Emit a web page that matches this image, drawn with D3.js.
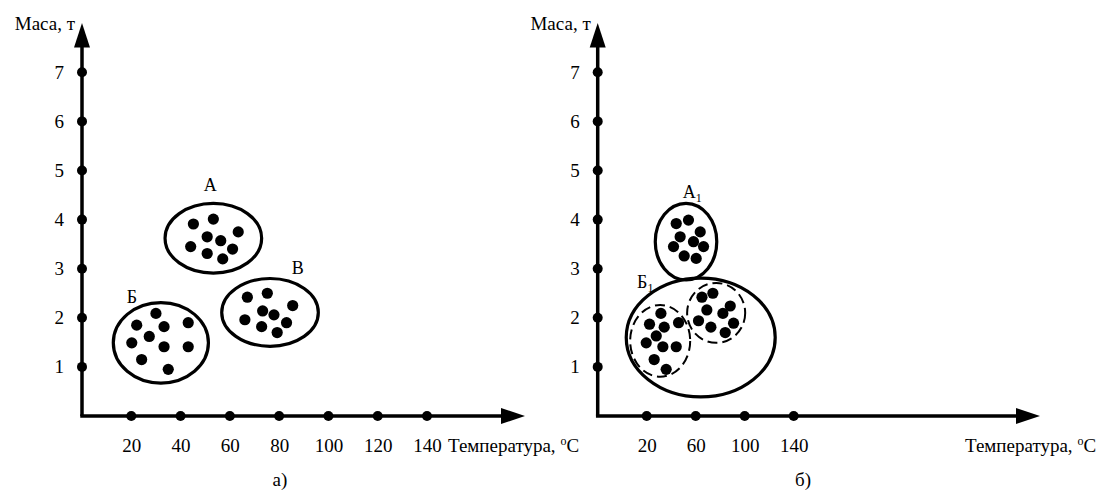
<!DOCTYPE html>
<html><head><meta charset="utf-8">
<script src="https://cdn.jsdelivr.net/npm/d3@7"></script>
<style>body{margin:0;background:#fff}svg{display:block}
svg text{font-family:'Liberation Serif','Times New Roman',Times,'DejaVu Serif',serif !important;fill:#000}</style>
</head><body>
<svg id="c" width="1110" height="491"></svg>
<script>
// ---- data ----
const massTicks = [1, 2, 3, 4, 5, 6, 7];
const leftTempTicks = [20, 40, 60, 80, 100, 120, 140];
const rightTempTicks = [20, 60, 100, 140];
const yLabel = "Маса, т";
const xLabel = "Температура, ";
const captions = ["а)", "б)"];

// panel a) clusters: [temperature, mass]
const clusterA = [[45.2,3.91],[53.3,4.01],[63.4,3.75],[50.8,3.65],[56.3,3.57],[44.1,3.45],[50.8,3.31],[61.1,3.40],[57.1,3.20]];
const clusterB = [[30.0,2.09],[22.2,1.85],[33.3,1.82],[43.1,1.90],[27.3,1.62],[20.2,1.49],[33.3,1.41],[43.1,1.41],[24.2,1.15],[35.0,0.95]];
const clusterV = [[67.1,2.42],[75.2,2.50],[85.5,2.25],[73.3,2.14],[77.9,2.06],[66.1,1.96],[72.9,1.82],[83.0,1.90],[79.2,1.70]];
// panel б) clusters
const clusterA1 = [[44.1,3.92],[54.1,3.99],[63.7,3.75],[47.3,3.65],[58.2,3.55],[41.9,3.45],[66.4,3.45],[50.6,3.26],[60.4,3.21]];
const clusterB1a = [[31.6,2.09],[22.3,1.87],[34.3,1.81],[46.0,1.90],[27.8,1.63],[19.6,1.49],[33.2,1.41],[44.1,1.41],[26.1,1.15],[35.9,0.95]];
const clusterB1b = [[65.1,2.42],[74.0,2.50],[88.2,2.24],[69.1,2.16],[82.2,2.09],[62.3,1.94],[72.4,1.81],[90.9,1.89],[84.1,1.70]];

// cluster envelopes: centre (t, m), half-extent (t, m)
const leftGroups = [
  {name:"А", sub:"", c:[53.3,3.62], r:[19.6,0.71], lab:[52,4.58], dash:false},
  {name:"Б", sub:"", c:[32.0,1.49], r:[19.3,0.82], lab:[20.3,2.3], dash:false},
  {name:"В", sub:"", c:[76.3,2.11], r:[19.6,0.69], lab:[87.6,2.9], dash:false}
];
const rightGroups = [
  {name:"А", sub:"1", c:[52.1,3.55], r:[25.1,0.78], lab:[57.1,4.45], dash:false},
  {name:"Б", sub:"1", c:[64.1,1.60], r:[60.8,1.21], lab:[18.8,2.6], dash:false},
  {name:"", sub:"", c:[31.0,1.53], r:[24.5,0.73], lab:null, dash:true},
  {name:"", sub:"", c:[76.7,2.10], r:[23.7,0.61], lab:null, dash:true}
];

// ---- drawing ----
const svg = d3.select("#c");
const FS = 19;
const FF = "'Liberation Serif','Times New Roman',Times,serif";

const y = d3.scaleLinear().domain([0, 7]).range([416, 72.3]);
const xLeft = d3.scaleLinear().domain([0, 140]).range([82, 427]);
const xRight = d3.scaleLinear().domain([-20, 140]).range([597.7, 793.7]);

function panel(x, xTicks, xTickLabels, groups, clusters, xAxisEnd, xLabelX, captionX, caption) {
  const g = svg.append("g").attr("font-family", FF);
  const x0 = x.range()[0];
  const y0 = y(0);
  // axes lines
  g.append("line").attr("x1", x0).attr("y1", y0).attr("x2", x0).attr("y2", 42)
    .attr("stroke", "#000").attr("stroke-width", 3.5);
  g.append("line").attr("x1", x0 - 1.75).attr("y1", y0).attr("x2", xAxisEnd - 18).attr("y2", y0)
    .attr("stroke", "#000").attr("stroke-width", 3.5);
  g.append("path").attr("d", `M${x0},23 L${x0 - 8},47.5 L${x0 + 8},47.5 Z`).attr("fill", "#000");
  g.append("path").attr("d", `M${xAxisEnd},${y0} L${xAxisEnd - 24},${y0 - 8} L${xAxisEnd - 24},${y0 + 8} Z`).attr("fill", "#000");

  // y axis ticks via d3 axis
  const ya = g.append("g").attr("transform", `translate(${x0},0)`)
    .call(d3.axisLeft(y).tickValues(massTicks).tickSize(0).tickPadding(18).tickFormat(d3.format("d")));
  ya.attr("font-family", FF).attr("font-size", FS);
  ya.select(".domain").remove();
  ya.selectAll("text").attr("font-family", FF).attr("font-size", FS).attr("fill", "#000");
  g.selectAll(".ydot").data(massTicks).enter().append("circle")
    .attr("cx", x0).attr("cy", d => y(d)).attr("r", 5);

  // x axis ticks
  const xa = g.append("g").attr("transform", `translate(0,${y0})`)
    .call(d3.axisBottom(x).tickValues(xTicks).tickSize(0).tickPadding(23)
      .tickFormat((d, i) => xTickLabels[i]));
  xa.attr("font-family", FF).attr("font-size", FS);
  xa.select(".domain").remove();
  xa.selectAll("text").attr("font-family", FF).attr("font-size", FS).attr("fill", "#000");
  g.selectAll(".xdot").data(xTicks).enter().append("circle")
    .attr("cx", d => x(d)).attr("cy", y0).attr("r", 5);

  // axis titles
  g.append("text").attr("x", x0 - 7).attr("y", 29.5).attr("text-anchor", "end")
    .attr("font-size", FS).text(yLabel);
  const xt = g.append("text").attr("x", xLabelX).attr("y", 452).attr("font-size", FS);
  xt.append("tspan").text(xLabel);
  xt.append("tspan").attr("dy", -7).attr("font-size", 12).text("o");
  xt.append("tspan").attr("dy", 7).text("C");
  g.append("text").attr("x", captionX).attr("y", 486).attr("text-anchor", "middle")
    .attr("font-size", FS).text(caption);

  // envelopes
  groups.forEach(gr => {
    g.append("ellipse")
      .attr("cx", x(gr.c[0])).attr("cy", y(gr.c[1]))
      .attr("rx", x(gr.c[0] + gr.r[0]) - x(gr.c[0]))
      .attr("ry", y(gr.c[1]) - y(gr.c[1] + gr.r[1]))
      .attr("fill", "none").attr("stroke", "#000")
      .attr("stroke-width", gr.dash ? 2 : 3.2)
      .attr("stroke-dasharray", gr.dash ? "10,5" : null);
    if (gr.lab) {
      const t = g.append("text").attr("x", x(gr.lab[0])).attr("y", y(gr.lab[1]))
        .attr("text-anchor", "middle").attr("font-size", 18);
      t.append("tspan").text(gr.name);
      if (gr.sub) t.append("tspan").attr("dy", 4).attr("font-size", 12).text(gr.sub);
    }
  });
  // points
  clusters.forEach(cl => {
    g.selectAll(null).data(cl).enter().append("circle")
      .attr("cx", d => x(d[0])).attr("cy", d => y(d[1])).attr("r", 5.6).attr("fill", "#000");
  });
}

panel(xLeft, leftTempTicks, leftTempTicks.map(String), leftGroups,
  [clusterA, clusterB, clusterV], 525, 448, 280, captions[0]);
panel(xRight, rightTempTicks.map((d, i) => 20 + i * 40), rightTempTicks.map(String), rightGroups,
  [clusterA1, clusterB1a, clusterB1b], 1040, 965, 803, captions[1]);
</script>
</body></html>
